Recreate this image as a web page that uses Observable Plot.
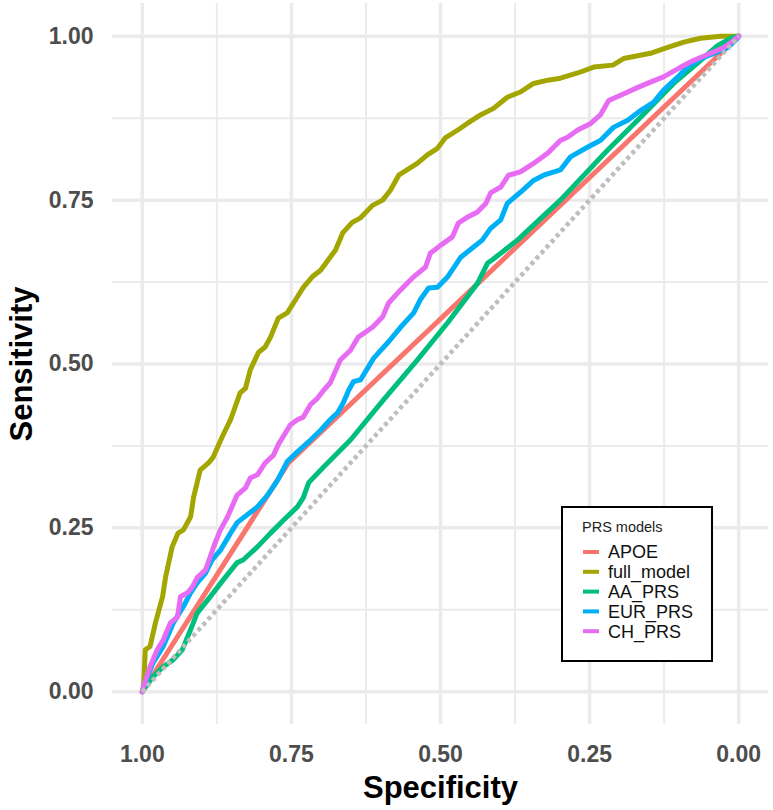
<!DOCTYPE html>
<html><head><meta charset="utf-8">
<script src="https://cdn.jsdelivr.net/npm/d3@7"></script>
<script src="https://cdn.jsdelivr.net/npm/@observablehq/plot@0.6"></script>
<style>
body{margin:0;background:#fff}
#chart{width:773px;height:810px}
svg{font-family:"Liberation Sans",Arial,sans-serif}
</style>
</head><body><div id="chart"></div>
<script>
const models = ["APOE","full_model","AA_PRS","EUR_PRS","CH_PRS"];
const colors = ["#F8766D","#A3A500","#00BF7D","#00B0F6","#E76BF3"];
const legendTitle = "PRS models";
const xTitle = "Specificity";
const yTitle = "Sensitivity";
const ticks = [0,0.25,0.5,0.75,1];
const minorTicks = [0.125,0.375,0.625,0.875];
const tickLabels = ["0.00","0.25","0.50","0.75","1.00"];

const apoeSpec = [1,0.755,0];
const apoeSens = [0,0.349,1];

const fullSpec = [1,0.998,0.995,0.987,0.978,0.966,0.961,0.950,0.940,0.931,0.919,0.914,0.903,0.889,0.881,0.866,0.852,0.836,0.827,0.819,0.805,0.794,0.785,0.772,0.757,0.743,0.730,0.715,0.701,0.685,0.676,0.664,0.648,0.634,0.614,0.597,0.584,0.570,0.539,0.522,0.505,0.492,0.471,0.455,0.433,0.411,0.388,0.366,0.344,0.320,0.299,0.270,0.243,0.211,0.193,0.148,0.119,0.092,0.064,0.030,0];
const fullSens = [0,0.006,0.064,0.069,0.105,0.145,0.175,0.221,0.242,0.247,0.267,0.297,0.338,0.349,0.358,0.389,0.415,0.456,0.463,0.491,0.518,0.526,0.541,0.570,0.578,0.598,0.617,0.633,0.643,0.663,0.674,0.700,0.716,0.723,0.742,0.750,0.765,0.788,0.806,0.819,0.829,0.845,0.857,0.867,0.880,0.890,0.907,0.915,0.928,0.933,0.936,0.944,0.953,0.956,0.966,0.974,0.983,0.991,0.997,1.000,1];

const aaSpec = [1,0.998,0.982,0.965,0.948,0.933,0.919,0.908,0.886,0.864,0.841,0.831,0.807,0.785,0.763,0.740,0.730,0.721,0.696,0.651,0.596,0.539,0.488,0.438,0.421,0.413,0.371,0.299,0.220,0.164,0.109,0.064,0.035,0.013,0];
const aaSens = [0,0.003,0.023,0.038,0.049,0.064,0.095,0.120,0.145,0.171,0.197,0.201,0.221,0.242,0.262,0.282,0.296,0.319,0.343,0.384,0.445,0.506,0.563,0.623,0.654,0.659,0.689,0.750,0.826,0.877,0.928,0.963,0.986,0.997,1];

const eurSpec = [1,0.998,0.982,0.965,0.948,0.931,0.919,0.908,0.894,0.883,0.869,0.852,0.841,0.824,0.807,0.790,0.773,0.757,0.740,0.718,0.701,0.685,0.673,0.663,0.654,0.646,0.634,0.612,0.589,0.567,0.545,0.534,0.520,0.505,0.488,0.466,0.445,0.430,0.416,0.399,0.388,0.366,0.344,0.327,0.299,0.282,0.253,0.232,0.210,0.186,0.164,0.143,0.126,0.102,0.086,0.064,0.035,0.018,0.002,0];
const eurSens = [0,0.008,0.044,0.069,0.105,0.130,0.151,0.166,0.181,0.201,0.216,0.242,0.258,0.270,0.282,0.300,0.323,0.351,0.366,0.384,0.399,0.415,0.425,0.441,0.460,0.473,0.476,0.509,0.532,0.556,0.578,0.598,0.616,0.617,0.633,0.663,0.678,0.689,0.707,0.720,0.745,0.762,0.780,0.788,0.796,0.816,0.831,0.841,0.861,0.872,0.887,0.899,0.918,0.938,0.953,0.966,0.976,0.983,0.997,1];

const chSpec = [1,0.998,0.987,0.975,0.965,0.953,0.941,0.936,0.924,0.916,0.908,0.894,0.886,0.878,0.869,0.857,0.841,0.827,0.819,0.807,0.794,0.780,0.772,0.752,0.740,0.730,0.718,0.706,0.696,0.685,0.668,0.651,0.638,0.614,0.597,0.587,0.567,0.545,0.525,0.517,0.500,0.480,0.470,0.455,0.438,0.424,0.416,0.399,0.386,0.366,0.344,0.320,0.299,0.287,0.270,0.248,0.232,0.218,0.198,0.169,0.148,0.126,0.097,0.076,0.047,0.025,0.008,0];
const chSens = [0,0.008,0.038,0.064,0.079,0.105,0.114,0.145,0.151,0.160,0.174,0.186,0.206,0.227,0.247,0.267,0.300,0.311,0.326,0.331,0.349,0.361,0.377,0.407,0.415,0.419,0.438,0.448,0.460,0.471,0.506,0.521,0.541,0.556,0.572,0.593,0.613,0.633,0.648,0.669,0.681,0.694,0.715,0.724,0.732,0.745,0.761,0.770,0.788,0.793,0.806,0.822,0.841,0.846,0.857,0.867,0.880,0.902,0.910,0.922,0.930,0.938,0.953,0.963,0.974,0.983,0.994,1];

const diagSpec = [1,0];
const diagSens = [0,1];

const series = [[apoeSpec,apoeSens],[fullSpec,fullSens],[aaSpec,aaSens],[eurSpec,eurSens],[chSpec,chSens]];
const rows = [];
series.forEach(([s,t],k) => {
  const n = Math.min(s.length,t.length);
  for (let i=0;i<n;i++) rows.push({model:models[k], spec:s[i], sens:t[i]});
});
const diag = diagSpec.map((s,i)=>({spec:s, sens:diagSens[i]}));
const fmt = d => tickLabels[ticks.indexOf(d)];

const W = 773, H = 810, mL = 112, mR = 5, mT = 3, mB = 86;

const svg = Plot.plot({
  width: W, height: H,
  marginLeft: mL, marginRight: mR, marginTop: mT, marginBottom: mB,
  x: {domain:[1.05,-0.05], axis:null},
  y: {domain:[-0.05,1.05], axis:null},
  color: {domain: models, range: colors},
  style: {background:"white", fontFamily:"'Liberation Sans', Arial, sans-serif"},
  marks: [
    Plot.ruleX(minorTicks, {stroke:"#EBEBEB", strokeWidth:2}),
    Plot.ruleY(minorTicks, {stroke:"#EBEBEB", strokeWidth:2}),
    Plot.ruleX(ticks, {stroke:"#EBEBEB", strokeWidth:3.5}),
    Plot.ruleY(ticks, {stroke:"#EBEBEB", strokeWidth:3.5}),
    Plot.line(rows, {x:"spec", y:"sens", z:"model", stroke:"model", strokeWidth:5, strokeLinejoin:"round", strokeLinecap:"round"}),
    Plot.line(diag, {x:"spec", y:"sens", stroke:"#BEBEBE", strokeWidth:4.5, strokeDasharray:"4,3.5", strokeLinecap:"butt"}),
    Plot.axisX(ticks, {tickSize:0, tickPadding:21, tickFormat:fmt, fontSize:23, fontWeight:"bold", fill:"#4D4D4D", label:null}),
    Plot.axisY(ticks, {tickSize:0, tickPadding:19, tickFormat:fmt, fontSize:23, fontWeight:"bold", fill:"#4D4D4D", label:null}),
    Plot.text([xTitle], {text:d=>d, frameAnchor:"bottom", textAnchor:"middle", lineAnchor:"middle", dy:64, fontSize:31, fontWeight:"bold", fill:"black"}),
    Plot.text([yTitle], {text:d=>d, frameAnchor:"left", textAnchor:"middle", lineAnchor:"middle", dx:-90, rotate:-90, fontSize:31, fontWeight:"bold", fill:"black"})
  ]
});

// legend inside panel
const lg = d3.select(svg).append("g").attr("class","legend").attr("text-anchor","start");
const lx = 562, ly = 507, lw = 150, lh = 154;
lg.append("rect").attr("x",lx).attr("y",ly).attr("width",lw).attr("height",lh)
  .attr("fill","white").attr("stroke","black").attr("stroke-width",2);
lg.append("text").attr("x",lx+20).attr("y",ly+20).attr("dy","0.35em")
  .attr("font-size",14.5).attr("fill","#222").text(legendTitle);
models.forEach((m,i)=>{
  const yy = ly + 45 + i*19.8;
  lg.append("line").attr("x1",lx+21).attr("x2",lx+37).attr("y1",yy).attr("y2",yy)
    .attr("stroke",colors[i]).attr("stroke-width",4);
  lg.append("text").attr("x",lx+46).attr("y",yy).attr("dy","0.35em")
    .attr("font-size",18).attr("fill","#111").text(m);
});

document.getElementById("chart").appendChild(svg);
</script>
</body></html>
